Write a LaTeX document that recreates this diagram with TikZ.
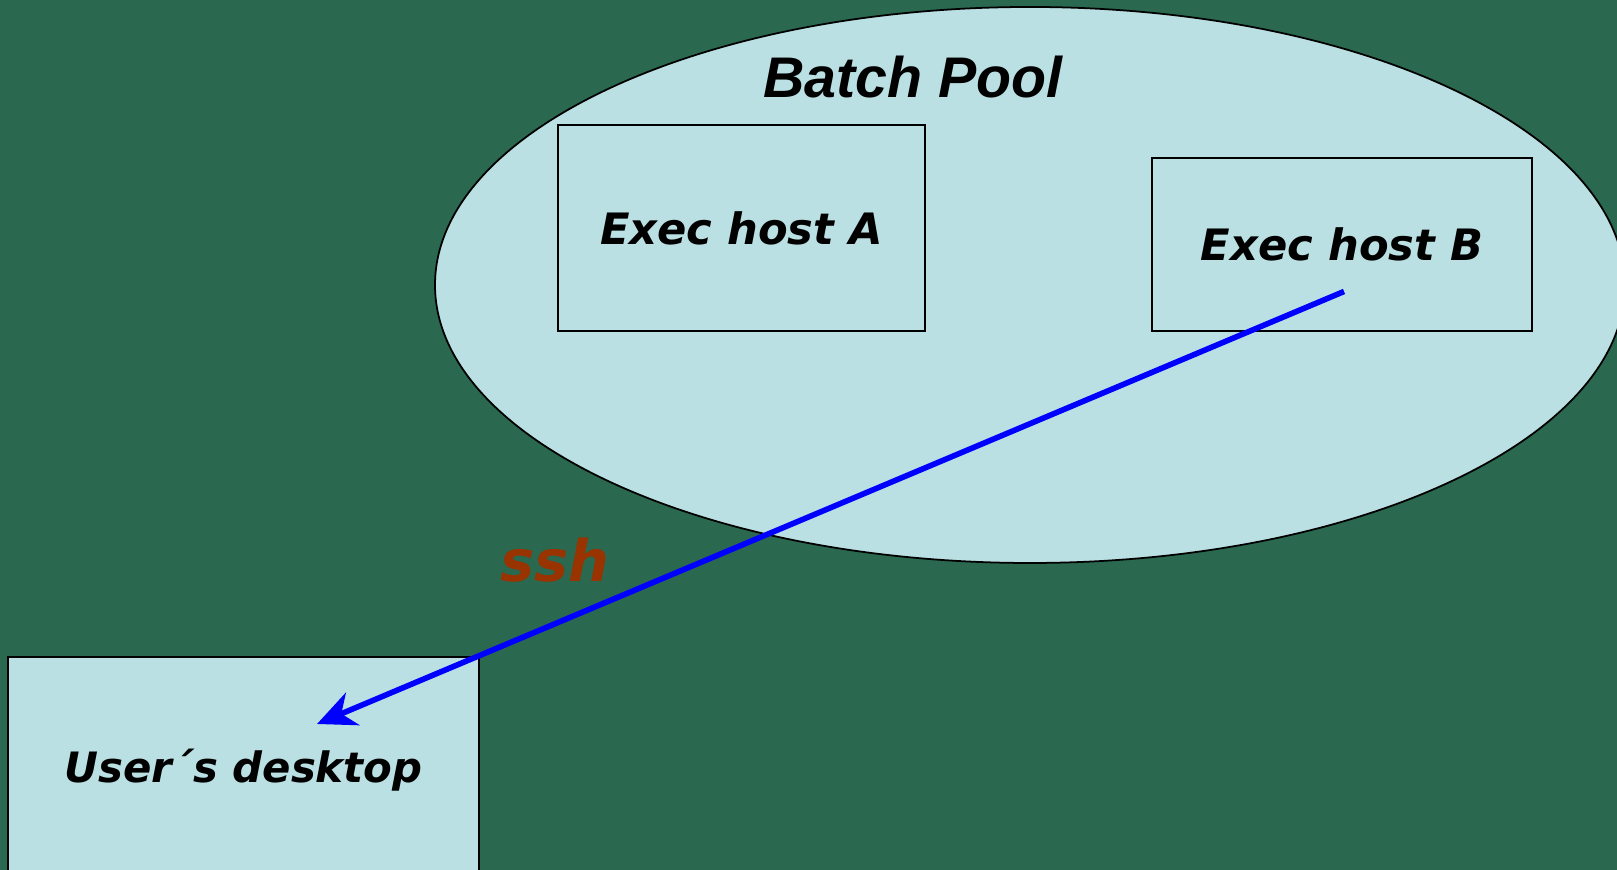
\documentclass[tikz,border=0pt]{standalone}
\usepackage{fontspec}
\setmainfont{DejaVu Sans}
\newfontfamily\poolfont{Liberation Sans}
\usetikzlibrary{arrows.meta, shapes.geometric, calc}
\definecolor{slidegreen}{RGB}{42,104,80}
\definecolor{poolblue}{RGB}{186,224,227}
\definecolor{sshbrown}{RGB}{153,51,0}

\begin{document}
\begin{tikzpicture}[>=Stealth,
	hostbox/.style={draw=black, line width=0.5pt, fill=poolblue, rectangle,
		inner sep=0pt, text depth=0pt,
		font=\fontsize{12.3}{14}\selectfont\bfseries\itshape}]
	
	% background
	\useasboundingbox (0,0) rectangle (16.17,8.70);
	\fill[slidegreen] (0,0) rectangle (16.17,8.70);
	
	%========================
	% Batch pool
	%========================
	\node[ellipse, draw=black, line width=0.5pt, fill=poolblue, inner sep=0pt,
	minimum width=11.9cm, minimum height=5.56cm] (pool) at (10.30,5.85) {};
	\node[font=\poolfont\fontsize{16.3}{18}\selectfont\bfseries\itshape, anchor=base]
	(pooltitle) at (9.13,7.72) {Batch Pool};
	
	% exec hosts
	\node[hostbox, minimum width=3.67cm, minimum height=2.06cm] (hostA) at (7.415,6.42) {Exec host A};
	\node[hostbox, minimum width=3.80cm, minimum height=1.73cm] (hostB) at (13.42,6.255) {Exec host B};
	
	%========================
	% User side
	%========================
	\node[hostbox, font=\fontsize{11.9}{14}\selectfont\bfseries\itshape,
	minimum width=4.71cm, minimum height=2.18cm] (desktop) at (2.435,1.04) {User´s desktop};
	\node[text=sshbrown, font=\fontsize{16.3}{18}\selectfont\bfseries\itshape, anchor=base]
	(ssh) at (5.55,2.88) {ssh};
	
	% ssh connection from host B back to the desktop
	\coordinate (sshfrom) at ($(hostB.center)+(0.02,-0.47)$);
	\coordinate (sshto) at ($(desktop.center)+(0.735,0.42)$);
	\draw[blue, line width=1.6pt, -{Stealth[length=11pt, width=10pt, inset=3.5pt]}] (sshfrom) -- (sshto);
	
\end{tikzpicture}
\end{document}
